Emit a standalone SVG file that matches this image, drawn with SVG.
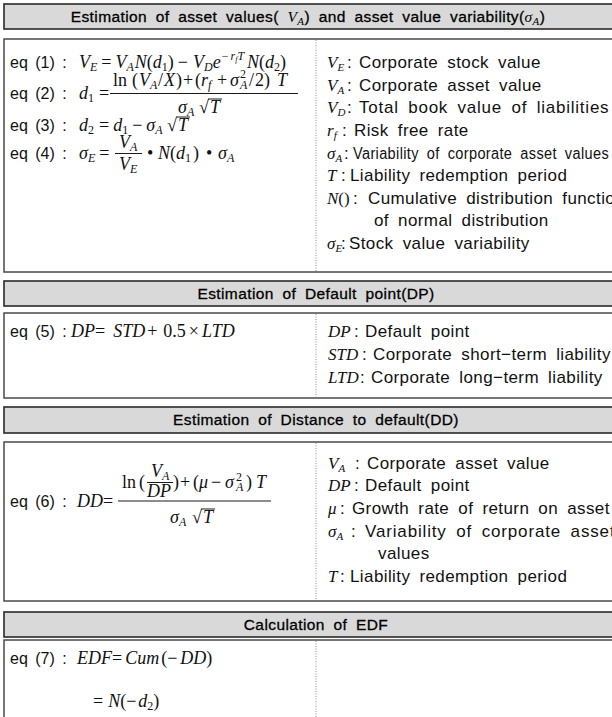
<svg xmlns="http://www.w3.org/2000/svg" width="612" height="717" viewBox="0 0 612 717">
<style>
.hdr{fill:#d9d9d9;stroke:#2a2a2a;stroke-width:1.6}
.box{fill:#fff;stroke:#4a4a4a;stroke-width:1.5}
.dv{stroke:#8a8a8a;stroke-width:1;stroke-dasharray:1 1.5;fill:none}
.bar{stroke:#000;stroke-width:0.9}
text{font-family:"Liberation Sans",Arial,sans-serif;font-size:17px;fill:#111}
.t{letter-spacing:0.4px;word-spacing:4px}
.lb{font-size:16px;word-spacing:3px}
.h{font-size:15.5px;fill:#000;stroke:#000;stroke-width:0.3;letter-spacing:0.4px;word-spacing:4px;text-anchor:middle}
.m{font-family:"Liberation Serif","Times New Roman",serif;font-style:italic}
.u{font-family:"Liberation Serif","Times New Roman",serif;font-style:normal}
.s{font-family:"Liberation Serif","Times New Roman",serif;font-style:italic;font-size:11px}
.sd{font-family:"Liberation Serif","Times New Roman",serif;font-style:normal;font-size:11px}
.ss{font-family:"Liberation Serif","Times New Roman",serif;font-style:italic;font-size:8px}
.L{font-size:18px}
.L .s,.L .sd{font-size:12px}
.nar{font-size:16px}
</style>

<g id="sec1">
<rect class="hdr" x="4" y="4" width="640" height="25"/>
<text class="h" x="308" y="22">Estimation of asset values( <tspan class="m" stroke-width="0">V</tspan><tspan class="s" stroke-width="0" dy="3">A</tspan><tspan dy="-3">) and asset value variability(</tspan><tspan class="m" stroke-width="0">σ</tspan><tspan class="s" stroke-width="0" dy="3">A</tspan><tspan dy="-3">)</tspan></text>
<rect class="box" x="4" y="39" width="640" height="233"/>
<line class="dv" x1="316" y1="40" x2="316" y2="271"/>

<text class="lb" x="10" y="68">eq (1) :</text>
<text class="m L" x="79" y="68">V<tspan class="s" dy="3">E</tspan><tspan class="u" dy="-3" dx="4">=</tspan><tspan dx="4">V</tspan><tspan class="s" dy="3">A</tspan><tspan dy="-3" dx="1">N</tspan><tspan class="u">(</tspan>d<tspan class="sd" dy="3">1</tspan><tspan class="u" dy="-3">)</tspan><tspan class="u" dx="4">−</tspan><tspan dx="5">V</tspan><tspan class="s" dy="3">D</tspan><tspan dy="-3">e</tspan><tspan class="sd" dy="-8" dx="1">−</tspan><tspan class="s" dx="2">r</tspan><tspan class="ss" dy="2">f</tspan><tspan class="s" dy="-2">T</tspan><tspan dy="8" dx="3">N</tspan><tspan class="u">(</tspan>d<tspan class="sd" dy="3">2</tspan><tspan class="u" dy="-3">)</tspan></text>

<text class="lb" x="10" y="99">eq (2) :</text>
<text class="m L" x="79" y="99">d<tspan class="sd" dy="3">1</tspan><tspan class="u" dy="-3" dx="5">=</tspan></text>
<text class="m L" y="86"><tspan class="u" x="113">ln</tspan><tspan class="u" x="132">(</tspan><tspan x="139">V</tspan><tspan class="s" dy="3">A</tspan><tspan class="u" x="158" dy="-3">/</tspan><tspan x="164">X</tspan><tspan class="u" x="176">)</tspan><tspan class="u" x="183">+</tspan><tspan class="u" x="195">(</tspan><tspan x="201">r</tspan><tspan class="s" dy="3">f</tspan><tspan class="u" x="217" dy="-3">+</tspan><tspan x="230">σ</tspan><tspan class="sd" x="240" dy="-8">2</tspan><tspan class="s" x="240" dy="11">A</tspan><tspan class="u" x="249" dy="-3">/</tspan><tspan class="u" x="255">2</tspan><tspan class="u" x="264">)</tspan><tspan x="277">T</tspan></text>
<line class="bar" x1="110" y1="93.5" x2="298" y2="93.5"/>
<text class="m L" y="113"><tspan x="178">σ</tspan><tspan class="s" dy="3">A</tspan><tspan class="u" x="199" dy="-3">√</tspan><tspan x="210">T</tspan></text>
<line class="bar" x1="208" y1="99" x2="222" y2="99"/>

<text class="lb" x="10" y="131">eq (3) :</text>
<text class="m L" x="79" y="131">d<tspan class="sd" dy="3">2</tspan><tspan class="u" dy="-3" dx="5">=</tspan><tspan dx="4">d</tspan><tspan class="sd" dy="3">1</tspan><tspan class="u" dy="-3" dx="4">−</tspan><tspan dx="4">σ</tspan><tspan class="s" dy="3">A</tspan><tspan class="u" x="167" dy="-3">√</tspan><tspan x="178">T</tspan></text>
<line class="bar" x1="176" y1="117" x2="190" y2="117"/>

<text class="lb" x="10" y="159">eq (4) :</text>
<text class="m L" x="79" y="159">σ<tspan class="s" dy="3">E</tspan><tspan class="u" dy="-3" dx="4">=</tspan><tspan class="u" x="147">•</tspan><tspan x="158">N</tspan><tspan class="u">(</tspan>d<tspan class="sd" dy="3">1</tspan><tspan class="u" dy="-3" dx="2">)</tspan><tspan class="u" x="206">•</tspan><tspan x="218">σ</tspan><tspan class="s" dy="3">A</tspan></text>
<text class="m L" y="148"><tspan x="119">V</tspan><tspan class="s" dy="3">A</tspan></text>
<line class="bar" x1="115" y1="153.5" x2="142" y2="153.5"/>
<text class="m L" y="170"><tspan x="119">V</tspan><tspan class="s" dy="3">E</tspan></text>

<text y="68"><tspan class="m" x="327">V</tspan><tspan class="s" dy="3">E</tspan><tspan x="347" dy="-3">:</tspan></text>
<text class="t" x="359" y="68">Corporate stock value</text>
<text y="90.5"><tspan class="m" x="327">V</tspan><tspan class="s" dy="3">A</tspan><tspan x="347" dy="-3">:</tspan></text>
<text class="t" x="359" y="90.5">Corporate asset value</text>
<text y="113"><tspan class="m" x="327">V</tspan><tspan class="s" dy="3">D</tspan><tspan x="347" dy="-3">:</tspan></text>
<text class="t" x="359" y="113" textLength="250" lengthAdjust="spacing">Total book value of liabilities</text>
<text y="136"><tspan class="m" x="327">r</tspan><tspan class="s" dy="3">f</tspan><tspan x="342" dy="-3">:</tspan></text>
<text class="t" x="354" y="136">Risk free rate</text>
<text y="158.5"><tspan class="m" x="327">σ</tspan><tspan class="s" dy="3">A</tspan><tspan x="344" dy="-3">:</tspan></text>
<text class="t nar" x="353" y="158.5" textLength="256" lengthAdjust="spacingAndGlyphs">Variability of corporate asset values</text>
<text y="181"><tspan class="m" x="327">T</tspan><tspan x="341">:</tspan></text>
<text class="t" x="350" y="181">Liability redemption period</text>
<text y="204"><tspan class="m" x="327">N</tspan><tspan class="u">()</tspan><tspan x="353">:</tspan></text>
<text class="t" x="368" y="204">Cumulative distribution function</text>
<text class="t" x="374" y="226">of normal distribution</text>
<text y="249"><tspan class="m" x="327">σ</tspan><tspan class="s" dy="3">E</tspan><tspan x="341" dy="-3">:</tspan></text>
<text class="t" x="349" y="249">Stock value variability</text>
</g>

<g id="sec2">
<rect class="hdr" x="4" y="281" width="640" height="25"/>
<text class="h" x="316" y="299">Estimation of Default point(DP)</text>
<rect class="box" x="4" y="313" width="640" height="85"/>
<line class="dv" x1="316" y1="314" x2="316" y2="397"/>
<text class="lb" x="10" y="337">eq (5) :</text>
<text class="m L" x="71" y="337">DP<tspan class="u">=</tspan><tspan dx="8">STD</tspan><tspan class="u" dx="2">+</tspan><tspan class="u" dx="6">0.5</tspan><tspan class="u" dx="3">×</tspan><tspan dx="3">LTD</tspan></text>
<text y="337"><tspan class="m" x="328">DP</tspan><tspan x="354">:</tspan></text>
<text class="t" x="365" y="337">Default point</text>
<text y="360"><tspan class="m" x="328">STD</tspan><tspan x="362">:</tspan></text>
<text class="t" x="373" y="360">Corporate short−term liability</text>
<text y="383"><tspan class="m" x="328">LTD</tspan><tspan x="360">:</tspan></text>
<text class="t" x="371" y="383">Corporate long−term liability</text>
</g>

<g id="sec3">
<rect class="hdr" x="4" y="407" width="640" height="26"/>
<text class="h" x="316" y="425">Estimation of Distance to default(DD)</text>
<rect class="box" x="4" y="442" width="640" height="159"/>
<line class="dv" x1="316" y1="443" x2="316" y2="600"/>
<text class="lb" x="10" y="507">eq (6) :</text>
<text class="m L" x="77" y="507">DD<tspan class="u">=</tspan></text>
<text class="m L" y="488"><tspan class="u" x="122">ln</tspan><tspan class="u" x="139">(</tspan><tspan class="u" x="173">)</tspan><tspan class="u" x="180">+</tspan><tspan class="u" x="193">(</tspan><tspan x="199">μ</tspan><tspan class="u" x="211">−</tspan><tspan x="225">σ</tspan><tspan class="sd" x="236" dy="-7">2</tspan><tspan class="s" x="236" dy="10">A</tspan><tspan class="u" x="246" dy="-3">)</tspan><tspan x="256">T</tspan></text>
<text class="m L" y="477"><tspan x="151">V</tspan><tspan class="s" dy="3">A</tspan></text>
<line class="bar" x1="147" y1="482.5" x2="173" y2="482.5"/>
<text class="m L" x="147" y="497">DP</text>
<line class="bar" x1="118" y1="501" x2="271" y2="501"/>
<text class="m L" y="523"><tspan x="170">σ</tspan><tspan class="s" dy="3">A</tspan><tspan class="u" x="192" dy="-3">√</tspan><tspan x="203">T</tspan></text>
<line class="bar" x1="201" y1="509" x2="215" y2="509"/>

<text y="469"><tspan class="m" x="328">V</tspan><tspan class="s" dy="3">A</tspan><tspan x="355" dy="-3">:</tspan></text>
<text class="t" x="367" y="469">Corporate asset value</text>
<text y="491"><tspan class="m" x="328">DP</tspan><tspan x="354">:</tspan></text>
<text class="t" x="365" y="491">Default point</text>
<text y="514"><tspan class="m" x="328">μ</tspan><tspan x="340">:</tspan></text>
<text class="t" x="352" y="514">Growth rate of return on asset</text>
<text y="537"><tspan class="m" x="328">σ</tspan><tspan class="s" dy="3">A</tspan><tspan x="351" dy="-3">:</tspan></text>
<text class="t" x="365" y="537" textLength="250" lengthAdjust="spacing">Variability of corporate asset</text>
<text class="t" x="378" y="559">values</text>
<text y="582"><tspan class="m" x="328">T</tspan><tspan x="340">:</tspan></text>
<text class="t" x="350" y="582">Liability redemption period</text>
</g>

<g id="sec4">
<rect class="hdr" x="4" y="612" width="640" height="25"/>
<text class="h" x="316" y="630">Calculation of EDF</text>
<rect class="box" x="4" y="640" width="640" height="100"/>
<line class="dv" x1="316" y1="641" x2="316" y2="717"/>
<text class="lb" x="10" y="664">eq (7) :</text>
<text class="m L" x="77" y="664">EDF<tspan class="u">=</tspan><tspan dx="3">Cum</tspan><tspan class="u" dx="2">(−</tspan><tspan dx="3">DD</tspan><tspan class="u">)</tspan></text>
<text class="m L" x="93" y="707"><tspan class="u">=</tspan><tspan dx="5">N</tspan><tspan class="u">(−</tspan><tspan dx="2">d</tspan><tspan class="sd" dy="3">2</tspan><tspan class="u" dy="-3">)</tspan></text>
</g>

<g id="connectors"></g>
</svg>
